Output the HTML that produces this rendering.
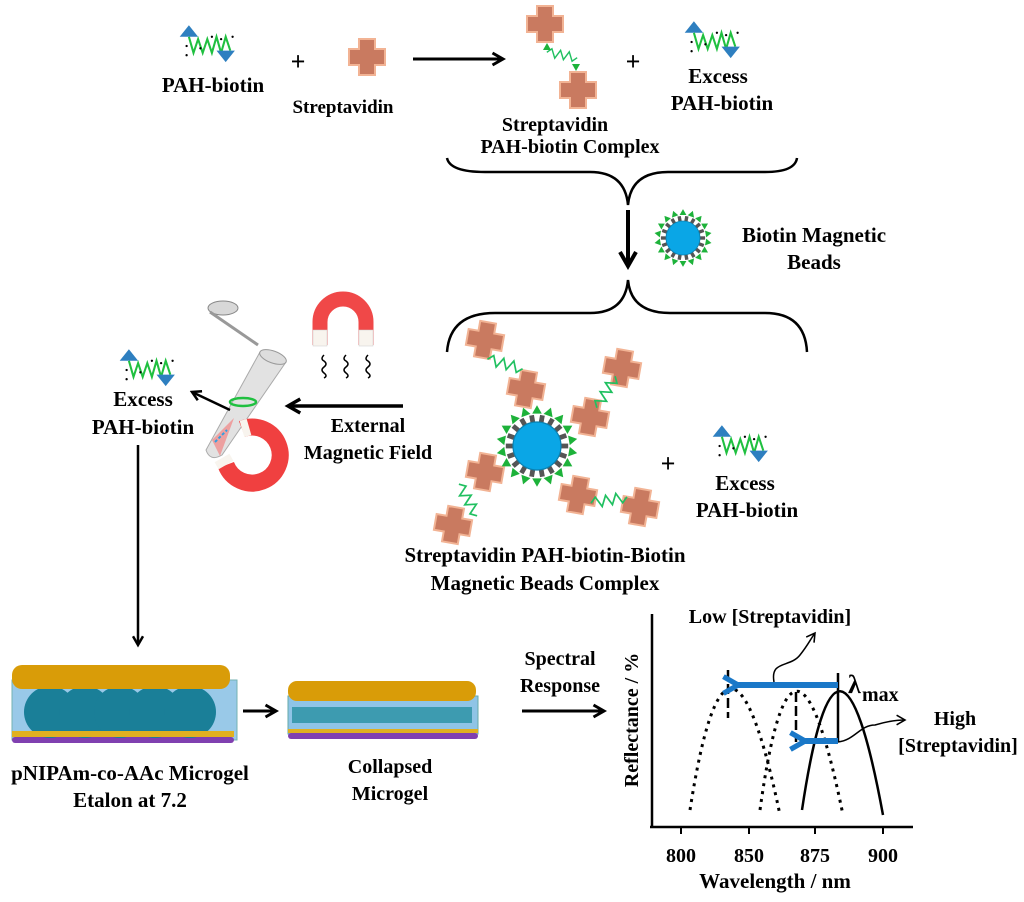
<!DOCTYPE html>
<html><head><meta charset="utf-8"><style>
html,body{margin:0;padding:0;background:#fff}
svg{display:block}
text{font-family:"Liberation Serif",serif;font-weight:bold;fill:#000}
</style></head><body>
<svg width="1024" height="902" viewBox="0 0 1024 902" xmlns="http://www.w3.org/2000/svg">
<defs>
<g id="cross"><path d="M-8,-18h16v10h10v16h-10v10h-16v-10h-10v-16h10z" fill="#c97a60" stroke="#f2b394" stroke-width="2"/></g>
<g id="pah">
<polygon points="-22,-8 -14,-18 -6,-8" fill="#2e7fc0"/>
<polyline points="-14,-8 -10,6 -6,-6 -2,6 2,-6 6,6 10,-8 14,6 18,-8 22,4" fill="none" stroke="#20c040" stroke-width="1.8"/>
<polygon points="10,4 26,4 18,14" fill="#2e7fc0"/>
<g fill="#000"><circle cx="-16" cy="0" r="1"/><circle cx="-16" cy="8" r="1"/><circle cx="-4" cy="2" r="1"/><circle cx="6" cy="-8" r="1"/><circle cx="14" cy="-6" r="1"/><circle cx="24" cy="-8" r="1"/></g>
</g>
<g id="link"><polyline points="-14,0 -10,-4 -6,4 -2,-4 2,4 6,-4 10,4 14,0" fill="none" stroke="#20c060" stroke-width="1.3"/></g>
<polygon id="tri" points="-4,-27 4,-27 0,-34" fill="#1db23a"/>
<rect id="lig" x="-2" y="-26" width="4" height="6" fill="#555"/>
<g id="bead">
<circle r="26" fill="#fff"/>
<g>
<use href="#tri"/><use href="#tri" transform="rotate(20)"/><use href="#tri" transform="rotate(40)"/><use href="#tri" transform="rotate(60)"/><use href="#tri" transform="rotate(80)"/><use href="#tri" transform="rotate(100)"/><use href="#tri" transform="rotate(120)"/><use href="#tri" transform="rotate(140)"/><use href="#tri" transform="rotate(160)"/><use href="#tri" transform="rotate(180)"/><use href="#tri" transform="rotate(200)"/><use href="#tri" transform="rotate(220)"/><use href="#tri" transform="rotate(240)"/><use href="#tri" transform="rotate(260)"/><use href="#tri" transform="rotate(280)"/><use href="#tri" transform="rotate(300)"/><use href="#tri" transform="rotate(320)"/><use href="#tri" transform="rotate(340)"/>
<use href="#lig" transform="rotate(10)"/><use href="#lig" transform="rotate(30)"/><use href="#lig" transform="rotate(50)"/><use href="#lig" transform="rotate(70)"/><use href="#lig" transform="rotate(90)"/><use href="#lig" transform="rotate(110)"/><use href="#lig" transform="rotate(130)"/><use href="#lig" transform="rotate(150)"/><use href="#lig" transform="rotate(170)"/><use href="#lig" transform="rotate(190)"/><use href="#lig" transform="rotate(210)"/><use href="#lig" transform="rotate(230)"/><use href="#lig" transform="rotate(250)"/><use href="#lig" transform="rotate(270)"/><use href="#lig" transform="rotate(290)"/><use href="#lig" transform="rotate(310)"/><use href="#lig" transform="rotate(330)"/><use href="#lig" transform="rotate(350)"/>
</g>
<circle r="20" fill="#0aa6e6" stroke="#0a80b0" stroke-width="1"/>
</g>
<marker id="ah" viewBox="0 0 10 10" refX="8" refY="5" markerWidth="5" markerHeight="5" orient="auto"><path d="M1,1 L8,5 L1,9" fill="none" stroke="#000" stroke-width="2"/></marker>
<marker id="ahs" viewBox="0 0 10 10" refX="8" refY="5" markerWidth="8" markerHeight="8" orient="auto"><path d="M1,1 L8,5 L1,9" fill="none" stroke="#000" stroke-width="1.3"/></marker>
<marker id="bh" viewBox="0 0 10 10" refX="3" refY="5" markerWidth="3.5" markerHeight="3.5" orient="auto"><path d="M9,1 L2,5 L9,9" fill="none" stroke="#1a78c8" stroke-width="2.5"/></marker>
</defs>

<!-- top row -->
<use href="#pah" transform="translate(205,46) scale(1.15)"/>
<text x="213" y="92" font-size="21" text-anchor="middle">PAH-biotin</text>
<text x="298" y="70" font-size="26" text-anchor="middle">+</text>
<use href="#cross" transform="translate(367,57)"/>
<text x="343" y="113" font-size="19" text-anchor="middle">Streptavidin</text>
<line x1="413" y1="59" x2="503" y2="59" stroke="#000" stroke-width="3" marker-end="url(#ah)"/>
<use href="#cross" transform="translate(545,24)"/>
<use href="#cross" transform="translate(578,90)"/>
<use href="#link" transform="translate(562,55) rotate(10) scale(1.1)"/>
<polygon points="543,50 551,50 547,43" fill="#1db23a"/><polygon points="572,64 580,64 576,71" fill="#1db23a"/>
<text x="633" y="70" font-size="26" text-anchor="middle">+</text>
<use href="#pah" transform="translate(710,42) scale(1.15)"/>
<text x="718" y="83" font-size="21" text-anchor="middle">Excess</text>
<text x="722" y="110" font-size="21" text-anchor="middle">PAH-biotin</text>
<text x="555" y="131" font-size="20" text-anchor="middle">Streptavidin</text>
<text x="570" y="153" font-size="20" text-anchor="middle">PAH-biotin Complex</text>
<path d="M447,158 Q450,172 485,172 L590,172 Q625,172 628,205 Q631,172 668,172 L765,172 Q795,172 797,158" fill="none" stroke="#000" stroke-width="2.5"/>
<line x1="628" y1="210" x2="628" y2="266" stroke="#000" stroke-width="4" marker-end="url(#ah)"/>
<use href="#bead" transform="translate(683,238) scale(0.85)"/>
<text x="814" y="242" font-size="21" text-anchor="middle">Biotin Magnetic</text>
<text x="814" y="269" font-size="21" text-anchor="middle">Beads</text>
<path d="M447,352 Q450,313 495,313 L590,313 Q625,313 628,280 Q631,313 670,313 L765,313 Q805,313 807,352" fill="none" stroke="#000" stroke-width="2.5"/>

<!-- big complex -->
<use href="#cross" transform="translate(485,340) rotate(10)"/>
<use href="#cross" transform="translate(526,389) rotate(10)"/>
<use href="#cross" transform="translate(622,368) rotate(10)"/>
<use href="#cross" transform="translate(590,417) rotate(10)"/>
<use href="#cross" transform="translate(485,472) rotate(10)"/>
<use href="#cross" transform="translate(578,495) rotate(10)"/>
<use href="#cross" transform="translate(453,525) rotate(10)"/>
<use href="#cross" transform="translate(640,507) rotate(10)"/>
<use href="#link" transform="translate(505,364) rotate(15) scale(1.3)"/>
<use href="#link" transform="translate(606,392) rotate(-60) scale(1.3)"/>
<use href="#link" transform="translate(468,500) rotate(60) scale(1.3)"/>
<use href="#link" transform="translate(609,500) rotate(-10) scale(1.3)"/>
<use href="#bead" transform="translate(537,446) scale(1.2)"/>
<text x="668" y="472" font-size="26" text-anchor="middle">+</text>
<use href="#pah" transform="translate(738,446) scale(1.15)"/>
<text x="745" y="490" font-size="21" text-anchor="middle">Excess</text>
<text x="747" y="517" font-size="21" text-anchor="middle">PAH-biotin</text>
<text x="545" y="562" font-size="21" text-anchor="middle">Streptavidin PAH-biotin-Biotin</text>
<text x="545" y="590" font-size="21" text-anchor="middle">Magnetic Beads Complex</text>

<!-- magnet/tube -->
<line x1="403" y1="406" x2="288" y2="406" stroke="#000" stroke-width="3.5" marker-end="url(#ah)"/>
<text x="368" y="432" font-size="20" text-anchor="middle">External</text>
<text x="368" y="459" font-size="20" text-anchor="middle">Magnetic Field</text>
<path d="M320,345 L320,322 A23,23 0 0 1 366,322 L366,345" fill="none" stroke="#f04848" stroke-width="15"/>
<rect x="313" y="330" width="14" height="16" fill="#f8f4ee" stroke="#ccc" stroke-width="0.5"/><rect x="359" y="330" width="14" height="16" fill="#f8f4ee" stroke="#ccc" stroke-width="0.5"/>
<path d="M324,355 q-4,4 0,6 q4,3 0,6 q-4,3 0,6 q4,3 0,5 M346,355 q-4,4 0,6 q4,3 0,6 q-4,3 0,6 q4,3 0,5 M368,355 q-4,4 0,6 q4,3 0,6 q-4,3 0,6 q4,3 0,5" fill="none" stroke="#000" stroke-width="1.5"/>
<ellipse cx="223" cy="308" rx="15" ry="7" fill="#d8d8d8" stroke="#888"/>
<path d="M210,312 L258,345" stroke="#999" stroke-width="3"/>
<path d="M260,352 L286,362 L222,455 Q210,462 206,450 Z" fill="#e2e2e2" stroke="#aaa"/>
<ellipse cx="273" cy="357" rx="14" ry="6" transform="rotate(20 273 357)" fill="#ddd" stroke="#999"/>
<path d="M212,440 l22,-22 l-14,38 z" fill="#f09090" opacity="0.8"/>
<path d="M215,442 l12,-12" stroke="#30a0e0" stroke-width="2" stroke-dasharray="3 2"/>
<ellipse cx="243" cy="402" rx="13" ry="4" fill="none" stroke="#20c040" stroke-width="2.5"/>
<path d="M242,429 A28,28 0 1 1 226,465" fill="none" stroke="#f04040" stroke-width="17"/>
<path d="M242,429 L249,427" stroke="#f8f4ee" stroke-width="17"/>
<path d="M226,465 L222,458" stroke="#f8f4ee" stroke-width="17"/>
<line x1="230" y1="410" x2="192" y2="392" stroke="#000" stroke-width="2.5" marker-end="url(#ah)"/>
<use href="#pah" transform="translate(145,370) scale(1.15)"/>
<text x="143" y="406" font-size="21" text-anchor="middle">Excess</text>
<text x="143" y="434" font-size="21" text-anchor="middle">PAH-biotin</text>
<line x1="138" y1="445" x2="138" y2="645" stroke="#000" stroke-width="2.5" marker-end="url(#ah)"/>

<!-- etalons -->
<rect x="12" y="680" width="225" height="60" fill="#8fc4e6" stroke="#6aa" opacity="0.9"/>
<rect x="12" y="737" width="222" height="6" rx="3" fill="#8040b0"/>
<g fill="#1a7f98"><circle cx="50" cy="712" r="26"/><circle cx="85" cy="712" r="26"/><circle cx="120" cy="712" r="26"/><circle cx="155" cy="712" r="26"/><circle cx="190" cy="712" r="26"/></g>
<rect x="12" y="665" width="218" height="24" rx="10" fill="#d99c08"/>
<rect x="12" y="731" width="222" height="6" fill="#e0b020"/>
<line x1="243" y1="711" x2="276" y2="711" stroke="#000" stroke-width="3" marker-end="url(#ah)"/>
<rect x="288" y="696" width="190" height="38" fill="#8fc4e6" stroke="#6aa"/>
<rect x="292" y="707" width="180" height="16" fill="#1a8a98" opacity="0.7"/>
<rect x="288" y="733" width="190" height="6" rx="3" fill="#8040b0"/>
<rect x="288" y="681" width="188" height="20" rx="9" fill="#d99c08"/>
<rect x="288" y="729" width="190" height="4" fill="#e0b020"/>
<text x="130" y="780" font-size="21" text-anchor="middle">pNIPAm-co-AAc Microgel</text>
<text x="130" y="807" font-size="21" text-anchor="middle">Etalon at 7.2</text>
<text x="390" y="773" font-size="20" text-anchor="middle">Collapsed</text>
<text x="390" y="800" font-size="20" text-anchor="middle">Microgel</text>
<text x="560" y="665" font-size="20" text-anchor="middle">Spectral</text>
<text x="560" y="692" font-size="20" text-anchor="middle">Response</text>
<line x1="522" y1="711" x2="604" y2="711" stroke="#000" stroke-width="3" marker-end="url(#ah)"/>

<!-- graph -->
<line x1="652" y1="614" x2="652" y2="828" stroke="#000" stroke-width="2.5"/>
<line x1="650" y1="827" x2="913" y2="827" stroke="#000" stroke-width="2.5"/>
<g stroke="#000" stroke-width="2"><line x1="681" y1="827" x2="681" y2="834"/><line x1="749" y1="827" x2="749" y2="834"/><line x1="815" y1="827" x2="815" y2="834"/><line x1="883" y1="827" x2="883" y2="834"/></g>
<g font-size="20" text-anchor="middle"><text x="681" y="862">800</text><text x="749" y="862">850</text><text x="815" y="862">875</text><text x="883" y="862">900</text></g>
<text x="775" y="888" font-size="21" text-anchor="middle">Wavelength / nm</text>
<text transform="translate(638,720) rotate(-90)" font-size="20" text-anchor="middle">Reflectance / %</text>
<path d="M690,810 Q728,565 780,815" fill="none" stroke="#000" stroke-width="3" stroke-dasharray="3 5"/>
<path d="M760,810 Q793,570 843,815" fill="none" stroke="#000" stroke-width="3" stroke-dasharray="3 5"/>
<path d="M802,810 Q838,570 883,815" fill="none" stroke="#000" stroke-width="2.5"/>
<line x1="728" y1="670" x2="728" y2="718" stroke="#000" stroke-width="2.5" stroke-dasharray="10 4"/>
<line x1="796" y1="692" x2="796" y2="742" stroke="#000" stroke-width="2.5" stroke-dasharray="10 4"/>
<line x1="838" y1="673" x2="838" y2="742" stroke="#000" stroke-width="2.5"/>
<line x1="838" y1="685" x2="736" y2="685" stroke="#1a78c8" stroke-width="6" marker-end="url(#bh)"/>
<line x1="838" y1="741" x2="803" y2="741" stroke="#1a78c8" stroke-width="6" marker-end="url(#bh)"/>
<path d="M774,682 C770,660 790,668 800,655 C808,645 810,640 815,633" fill="none" stroke="#000" stroke-width="1.5" marker-end="url(#ahs)"/>
<path d="M838,742 C855,740 860,725 875,725 C885,722 895,720 905,720" fill="none" stroke="#000" stroke-width="1.5" marker-end="url(#ahs)"/>
<text x="770" y="623" font-size="20" text-anchor="middle">Low [Streptavidin]</text>
<text x="848" y="693" font-size="26">λ</text><text x="862" y="701" font-size="20">max</text>
<text x="955" y="725" font-size="20" text-anchor="middle">High</text>
<text x="958" y="752" font-size="20" text-anchor="middle">[Streptavidin]</text>
</svg>
</body></html>
